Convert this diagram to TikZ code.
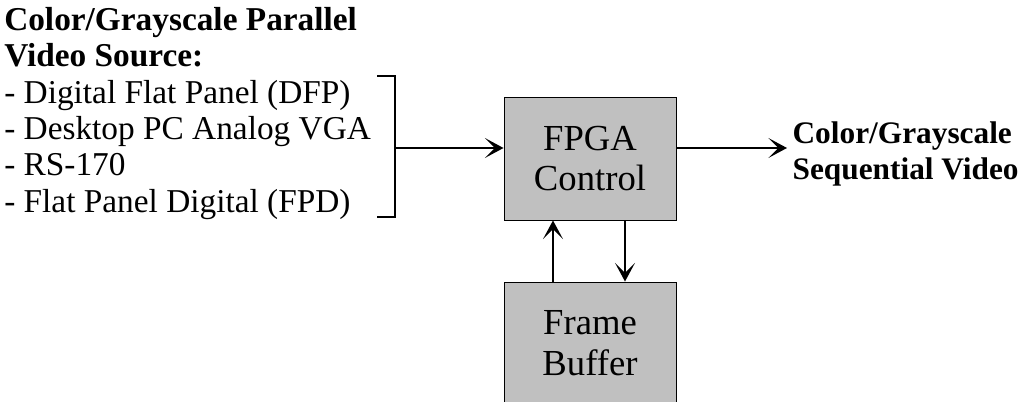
\documentclass[tikz,border=0pt]{standalone}
\usepackage{fontspec}
\setmainfont{Liberation Serif}
\usetikzlibrary{calc, arrows.meta}

\tikzset{
  block/.style={draw, line width=0.7pt, fill={rgb,255:red,192;green,192;blue,192},
    minimum width=129pt, minimum height=92.25pt, align=center, inner sep=0pt,
    font=\fontsize{27.5}{30.5}\selectfont},
  flow/.style={line width=1.4pt, -{Stealth[length=14pt, width=15pt, inset=7.5pt]}}
}

\begin{document}
\begin{tikzpicture}[x=0.75pt, y=-0.75pt]
  % pixel grid, origin top left
  \useasboundingbox (0,0) rectangle (1036,402);
  \clip (0,0) rectangle (1036,402);
  \node[anchor=north west, align=left, inner sep=0pt,
        font=\fontsize{25}{27.3}\selectfont] (src) at (4,7)
    {\textbf{Color/Grayscale Parallel}\\
     \textbf{Video Source:}\\
     - Digital Flat Panel (DFP)\\
     - Desktop PC Analog VGA\\
     - RS-170\\
     - Flat Panel Digital (FPD)};
  % bracket collecting the sources
  \coordinate (brtop) at (395,76);
  \coordinate (brbot) at (395,217);
  \coordinate (brmid) at (395,148);
  \draw[line width=1pt] ($(brtop)+(-18,0)$) -- (brtop) -- (brbot) -- ($(brbot)+(-18,0)$);
  \node[block] (fpga) at (590,158.5) {FPGA\\Control};
  \node[block] (fbuf) at (590,343.5) {Frame\\Buffer};
  \node[anchor=west, align=left, inner sep=4pt,
        font=\bfseries\fontsize{23.5}{27.5}\selectfont] (out) at (787,154)
    {Color/Grayscale\\Sequential Video};
  \draw[flow] (brmid) -- (brmid -| fpga.west);
  \draw[flow] (fpga.east |- brmid) -- (out.west |- brmid);
  \draw[flow] ($(fbuf.north)+(-37,0)$) -- ($(fpga.south)+(-37,0)$);
  \draw[flow] ($(fpga.south)+(35,0)$) -- ($(fbuf.north)+(35,0)$);
\end{tikzpicture}
\end{document}
